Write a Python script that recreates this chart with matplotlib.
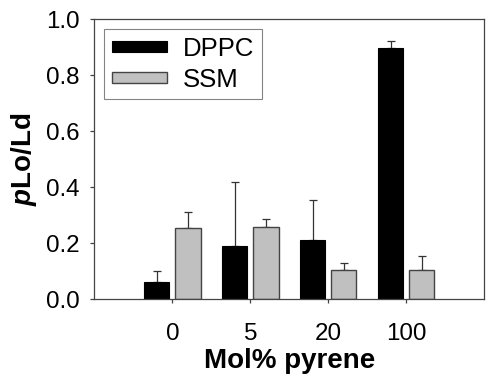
import matplotlib
matplotlib.use("Agg")
import matplotlib.pyplot as plt
import numpy as np

plt.rcParams['font.family'] = ['Liberation Sans', 'DejaVu Sans']
plt.rcParams['mathtext.fontset'] = 'custom'
plt.rcParams['mathtext.bfit'] = 'Liberation Sans:italic:bold'
plt.rcParams['mathtext.rm'] = 'Liberation Sans'

categories = ['0', '5', '20', '100']
dppc = [0.061, 0.191, 0.210, 0.898]
dppc_err = [0.040, 0.226, 0.143, 0.023]
ssm = [0.253, 0.258, 0.105, 0.105]
ssm_err = [0.057, 0.027, 0.023, 0.051]

fig = plt.figure(figsize=(4.94, 3.84), dpi=100)
ax = fig.add_axes([0.191, 0.2206, 0.789, 0.7299])

x = np.arange(1, len(categories) + 1)
w = 0.325
edge = '#444444'
ax.bar(x - 0.2, dppc, w, color='black', edgecolor='black', linewidth=0.8, label='DPPC', zorder=2)
ax.bar(x + 0.2, ssm, w, color='#c0c0c0', edgecolor=edge, linewidth=1.0, label='SSM', zorder=2)
ax.errorbar(x - 0.2, dppc, yerr=[np.zeros(4), dppc_err], fmt='none', ecolor='#333333',
            elinewidth=0.9, capsize=3, capthick=0.9, zorder=1)
ax.errorbar(x + 0.2, ssm, yerr=[np.zeros(4), ssm_err], fmt='none', ecolor='#333333',
            elinewidth=0.9, capsize=3, capthick=0.9, zorder=1)

ax.set_xlim(0, 5)
ax.set_ylim(0, 1.0)
ax.set_xticks(x)
ax.set_xticklabels(categories)
ax.set_yticks(np.arange(0, 1.01, 0.2))
ax.set_yticklabels(['0.0', '0.2', '0.4', '0.6', '0.8', '1.0'])
ax.tick_params(axis='both', labelsize=17.4, direction='out', length=2.9, width=0.9, color='#444444')
ax.tick_params(axis='x', pad=14)
ax.tick_params(axis='y', pad=8)
for s in ax.spines.values():
    s.set_color('#444444')
    s.set_linewidth(0.9)

ax.set_xlabel('Mol% pyrene', fontsize=20, fontweight='bold', labelpad=2)
ax.set_ylabel(r'$\mathbfit{p}$Lo/Ld', fontsize=20, fontweight='bold', labelpad=5)

leg = ax.legend(loc='upper left', bbox_to_anchor=(0.026, 0.965), borderaxespad=0,
                fontsize=18.5, fancybox=False, frameon=True, handlelength=2.15,
                handleheight=0.3, handletextpad=0.6, borderpad=0.3, labelspacing=0.28)
leg.get_frame().set_edgecolor('#666666')
leg.get_frame().set_linewidth(0.8)

fig.savefig('out.png', dpi=100)
